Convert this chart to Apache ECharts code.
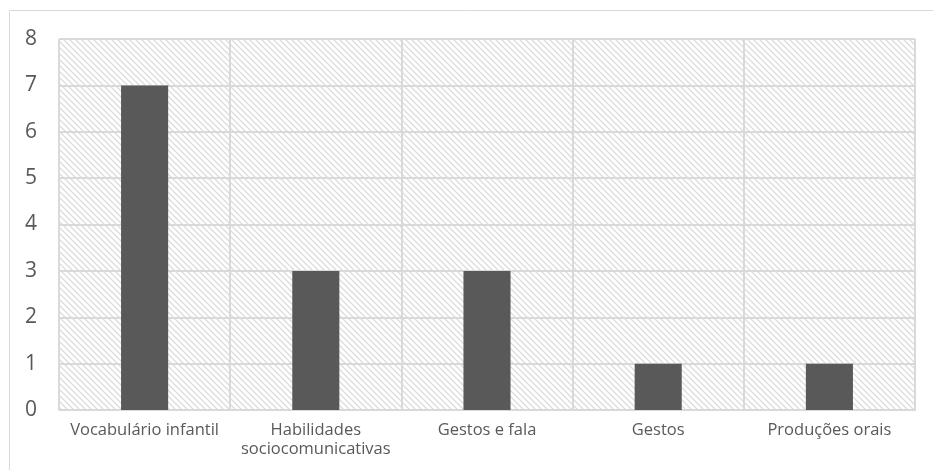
<!DOCTYPE html>
<html><head><meta charset="utf-8">
<script src="https://cdn.jsdelivr.net/npm/echarts@6/dist/echarts.min.js"></script>
<style>html,body{margin:0;padding:0;background:#fff}#c{width:933px;height:470px}</style>
</head><body><div id="c"></div>
<script>
const categories = ['Vocabulário infantil', 'Habilidades\nsociocomunicativas', 'Gestos e fala', 'Gestos', 'Produções orais'];
const values = [7, 3, 3, 1, 1];
const yTicks = [0, 1, 2, 3, 4, 5, 6, 7, 8];

const pc = document.createElement('canvas');
pc.width = 6; pc.height = 6;
const ctx = pc.getContext('2d');
ctx.fillStyle = '#ffffff'; ctx.fillRect(0,0,6,6);
ctx.strokeStyle = '#dcdcdc'; ctx.lineWidth = 1.3;
ctx.beginPath();
ctx.moveTo(-1,-1); ctx.lineTo(7,7);
ctx.moveTo(-4,2); ctx.lineTo(4,10);
ctx.moveTo(2,-4); ctx.lineTo(10,4);
ctx.stroke();
const hatch = {image: pc, repeat: 'repeat'};

const chart = echarts.init(document.getElementById('c'));
chart.setOption({
  animation: false,
  graphic: [{type:'rect', shape:{x:9.5,y:10.5,width:940,height:480}, style:{fill:'none', stroke:'#d9d9d9', lineWidth:1}, silent:true}],
  grid: {left: 59, right: 18, top: 39, bottom: 60},
  xAxis: {
    type: 'category', data: categories,
    axisTick: {show:false},
    axisLine: {lineStyle:{color:'#d9d9d9', width:2}},
    splitLine: {show:true, lineStyle:{color:'#d9d9d9', width:2}},
    axisLabel: {color:'#595959', fontSize:16.5, fontFamily:'Open Sans', margin:11, lineHeight:19, interval:0}
  },
  yAxis: {
    type: 'value', min: yTicks[0], max: yTicks[yTicks.length-1], interval: 1,
    axisLine: {show:false}, axisTick:{show:false},
    splitLine: {lineStyle:{color:'#d9d9d9', width:2}},
    splitArea: {show:true, areaStyle:{color:[hatch]}},
    axisLabel: {color:'#595959', fontSize:21, fontFamily:'Open Sans', margin:22}
  },
  series: [{type:'bar', data: values, barWidth: '27.5%', itemStyle:{color:'#595959'}}]
});
</script></body></html>
